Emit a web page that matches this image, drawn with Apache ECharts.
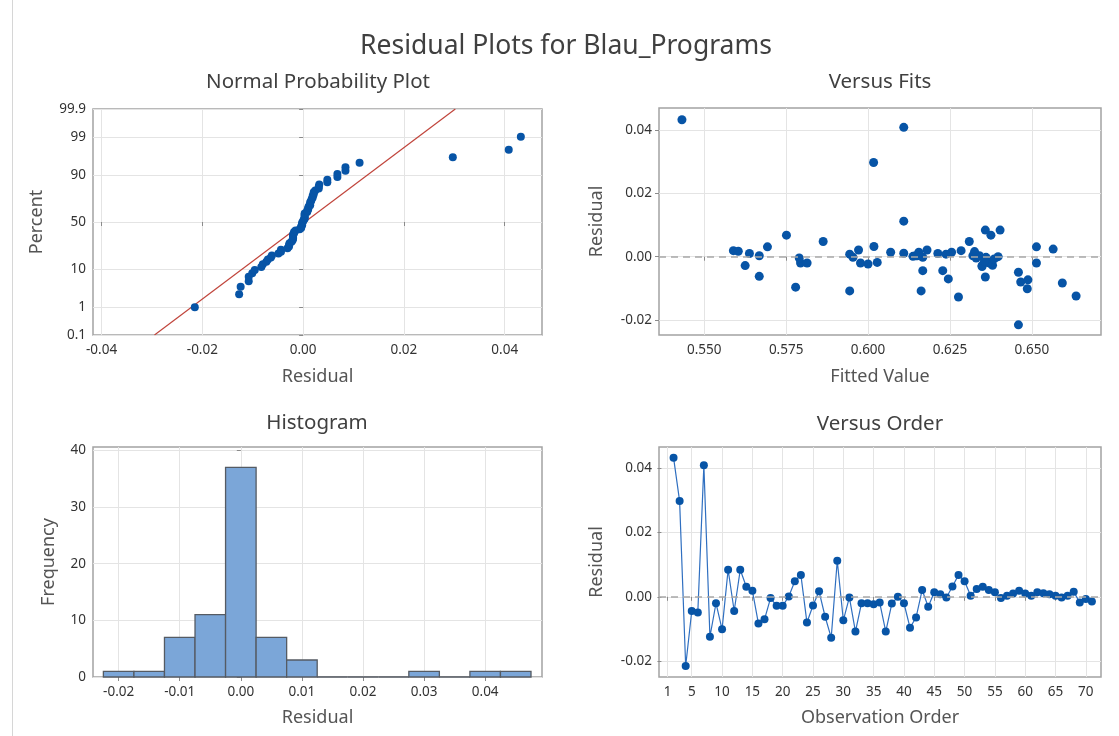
<!DOCTYPE html>
<html><head><meta charset="utf-8">
<script src="https://cdn.jsdelivr.net/npm/echarts@6/dist/echarts.min.js"></script>
<style>html,body{margin:0;padding:0;background:#fff}#c{width:1119px;height:736px}</style>
</head><body><div id="c"></div><script>
// ---------- data ----------
const obsOrder = [2,3,4,5,6,7,8,9,10,11,12,13,14,15,16,17,18,19,20,21,22,23,24,25,26,27,28,29,30,31,32,33,34,35,36,37,38,39,40,41,42,43,44,45,46,47,48,49,50,51,52,53,54,55,56,57,58,59,60,61,62,63,64,65,66,67,68,69,70,71];
const residuals = [0.0432,0.0297,-0.0215,-0.0044,-0.0049,0.0408,-0.0124,-0.0020,-0.0101,0.0084,-0.0044,0.0084,0.0031,0.0019,-0.0083,-0.0070,-0.0004,-0.0028,-0.0028,0.0001,0.0048,0.0068,-0.0080,-0.0027,0.0017,-0.0062,-0.0127,0.0112,-0.0073,-0.0002,-0.0108,-0.0020,-0.0020,-0.0023,-0.0018,-0.0108,-0.0021,0.0000,-0.0020,-0.0096,-0.0064,0.0021,-0.0031,0.0014,0.0008,-0.0002,0.0032,0.0068,0.0048,0.0003,0.0024,0.0031,0.0021,0.0014,-0.0004,0.0003,0.0010,0.0019,0.0010,0.0003,0.0014,0.0011,0.0008,0.0003,-0.0002,0.0003,0.0016,-0.0018,-0.0007,-0.0015];
const fittedValues = [0.5432,0.6017,0.6459,0.6167,0.6459,0.6109,0.6635,0.5794,0.6486,0.6358,0.6228,0.6403,0.5693,0.5589,0.6593,0.6245,0.5790,0.5625,0.6348,0.6137,0.5863,0.5751,0.6466,0.6380,0.5604,0.5668,0.6276,0.6109,0.6488,0.6167,0.5944,0.5814,0.5977,0.6000,0.6028,0.6162,0.6372,0.6397,0.6514,0.5779,0.6358,0.5971,0.6348,0.6069,0.5944,0.5954,0.6018,0.6375,0.6309,0.5668,0.6565,0.6514,0.6180,0.6255,0.6330,0.6145,0.5638,0.6284,0.6213,0.6320,0.6155,0.6109,0.6238,0.6340,0.6360,0.6150,0.6325,0.6365,0.6385,0.6355];
const histBinCenters = [-0.020,-0.015,-0.010,-0.005,0.000,0.005,0.010,0.015,0.020,0.025,0.030,0.035,0.040,0.045];
const histCounts = [1,1,7,11,37,7,3,0,0,0,1,0,1,1];
const histBinWidth = 0.005;
const probTickPercents = [0.1,1,10,50,90,99,99.9];
const fitLineResidual = [-0.0295, 0.0302];   // red reference line at 0.1% and 99.9%
const fitLinePercent = [0.1, 99.9];
const residTicks = [-0.02,0,0.02,0.04];
const probXTicks = [-0.04,-0.02,0,0.02,0.04];
const fitsXTicks = [0.550,0.575,0.600,0.625,0.650];
const histXTicks = [-0.02,-0.01,0,0.01,0.02,0.03,0.04];
const histYTicks = [0,10,20,30,40];
const orderXTicks = [1,5,10,15,20,25,30,35,40,45,50,55,60,65,70];

// ---------- helpers ----------
function probit(p){
  const a=[-3.969683028665376e+01,2.209460984245205e+02,-2.759285104469687e+02,1.383577518672690e+02,-3.066479806614716e+01,2.506628277459239e+00];
  const b=[-5.447609879822406e+01,1.615858368580409e+02,-1.556989798598866e+02,6.680131188771972e+01,-1.328068155288572e+01];
  const c=[-7.784894002430293e-03,-3.223964580411365e-01,-2.400758277161838e+00,-2.549732539343734e+00,4.374664141464968e+00,2.938163982698783e+00];
  const d=[7.784695709041462e-03,3.224671290700398e-01,2.445134137142996e+00,3.754408661907416e+00];
  const pl=0.02425, ph=1-pl; let q,r;
  if(p<pl){q=Math.sqrt(-2*Math.log(p));return (((((c[0]*q+c[1])*q+c[2])*q+c[3])*q+c[4])*q+c[5])/((((d[0]*q+d[1])*q+d[2])*q+d[3])*q+1);}
  if(p>ph){q=Math.sqrt(-2*Math.log(1-p));return -(((((c[0]*q+c[1])*q+c[2])*q+c[3])*q+c[4])*q+c[5])/((((d[0]*q+d[1])*q+d[2])*q+d[3])*q+1);}
  q=p-0.5;r=q*q;return (((((a[0]*r+a[1])*r+a[2])*r+a[3])*r+a[4])*r+a[5])*q/(((((b[0]*r+b[1])*r+b[2])*r+b[3])*r+b[4])*r+1);
}
const n = residuals.length;
const sorted = residuals.slice().sort((x,y)=>x-y);
const probData = sorted.map((v,i)=>[v, probit((i+1-0.3)/(n+0.4))]);
const probZTicks = probTickPercents.map(p=>probit(p/100));
const fitLineData = fitLineResidual.map((v,i)=>[v, probit(fitLinePercent[i]/100)]);
const fitsData = fittedValues.map((f,i)=>[f, residuals[i]]);
const orderData = obsOrder.map((o,i)=>[o, residuals[i]]);
const histData = histBinCenters.map((c,i)=>[c-histBinWidth/2, c+histBinWidth/2, histCounts[i]]);

const FONT = 'Noto Sans';
const BLUE = '#0754a6';
const labelColor = '#333333';
const nameColor = '#555555';

function axis(opt){
  return {
    type:'value', gridIndex:opt.g, min:opt.min, max:opt.max,
    name:opt.name, nameLocation:'middle', nameGap:opt.gap,
    nameTextStyle:{fontFamily:FONT, fontSize:18, color:nameColor},
    axisLine:{show:false},
    axisTick:{show:true, length:4, lineStyle:{color:'#8a8a8a'}, customValues:opt.ticks},
    axisLabel:{fontFamily:FONT, fontSize:13.5, color:labelColor, margin:opt.margin||7,
      customValues:opt.ticks, formatter:opt.fmt, showMinLabel:true, showMaxLabel:true},
    splitLine:{show:true, lineStyle:{color:'#e4e4e4', width:1}}
  };
}
const f2 = v => (Math.abs(v)<1e-12?0:v).toFixed(2);
const f3 = v => v.toFixed(3);

const grids = [
  {left:93, top:109, width:449, height:226},
  {left:659, top:108, width:442, height:227},
  {left:93, top:447, width:449, height:230},
  {left:659, top:447, width:442, height:230}
].map(g=>Object.assign({show:true, borderColor:'#a3a3a3', borderWidth:1.5, backgroundColor:'#fff'}, g));

const zeroLine = {silent:true, symbol:'none', label:{show:false},
  lineStyle:{type:[7,5], color:'#a8a8a8', width:1.5}, data:[{yAxis:0}]};

const option = {
  animation:false,
  backgroundColor:'#fff',
  grid:grids,
  xAxis:[
    axis({g:0, min:-0.0417, max:0.0474, ticks:probXTicks, fmt:f2, name:'Residual', gap:33, margin:8}),
    axis({g:1, min:0.5362, max:0.6711, ticks:fitsXTicks, fmt:f3, name:'Fitted Value', gap:33, margin:8}),
    axis({g:2, min:-0.0242, max:0.0493, ticks:histXTicks, fmt:f2, name:'Residual', gap:32, margin:8}),
    axis({g:3, min:-0.4, max:72.5, ticks:orderXTicks, fmt:v=>String(v), name:'Observation Order', gap:32, margin:8})
  ],
  yAxis:[
    axis({g:0, min:probit(0.001)-1e-6, max:probit(0.999)+1e-6, ticks:probZTicks, name:'Percent', gap:47,
      fmt:v=>{const i=probZTicks.findIndex(z=>Math.abs(z-v)<1e-4);return i>=0?String(probTickPercents[i]):'';}}),
    axis({g:1, min:-0.0247, max:0.0469, ticks:residTicks, fmt:f2, name:'Residual', gap:53}),
    axis({g:2, min:0, max:40.6, ticks:histYTicks, fmt:v=>String(v), name:'Frequency', gap:35}),
    axis({g:3, min:-0.0249, max:0.0465, ticks:residTicks, fmt:f2, name:'Residual', gap:53})
  ],
  series:[
    {type:'line', xAxisIndex:0, yAxisIndex:0, data:fitLineData, symbol:'none', silent:true,
      lineStyle:{color:'#c0443b', width:1.2}, z:2},
    {type:'scatter', xAxisIndex:0, yAxisIndex:0, data:probData, symbol:'circle', symbolSize:8,
      itemStyle:{color:BLUE, opacity:1}, z:3},
    {type:'scatter', xAxisIndex:1, yAxisIndex:1, data:fitsData, symbol:'circle', symbolSize:9,
      itemStyle:{color:BLUE, opacity:1}, markLine:zeroLine, z:3},
    {type:'custom', xAxisIndex:2, yAxisIndex:2, data:histData,
      renderItem:(params, api)=>{
        const p0 = api.coord([api.value(0), 0]);
        const p1 = api.coord([api.value(1), api.value(2)]);
        return {type:'rect', shape:{x:p0[0], y:p1[1], width:p1[0]-p0[0], height:p0[1]-p1[1]},
          style:{fill:'#7ba6d8', stroke:'#555b63', lineWidth:1.3}};
      }, z:3},
    {type:'line', xAxisIndex:3, yAxisIndex:3, data:orderData, symbol:'circle', symbolSize:8, showSymbol:true,
      lineStyle:{color:'#2f6fc0', width:1.2}, itemStyle:{color:BLUE}, markLine:zeroLine, z:3}
  ],
  graphic:[
    {type:'line', shape:{x1:12.5,y1:0,x2:12.5,y2:736}, style:{stroke:'#d6d6d6', lineWidth:1}, silent:true},
    {type:'text', x:566, y:46, style:{text:'Residual Plots for Blau_Programs', font:'26.5px "Noto Sans"', fill:'#404040', textAlign:'center', textVerticalAlign:'middle'}},
    {type:'text', x:318, y:82, style:{text:'Normal Probability Plot', font:'20.5px "Noto Sans"', fill:'#404040', textAlign:'center', textVerticalAlign:'middle'}},
    {type:'text', x:880, y:82, style:{text:'Versus Fits', font:'20.5px "Noto Sans"', fill:'#404040', textAlign:'center', textVerticalAlign:'middle'}},
    {type:'text', x:317, y:423, style:{text:'Histogram', font:'20.5px "Noto Sans"', fill:'#404040', textAlign:'center', textVerticalAlign:'middle'}},
    {type:'text', x:880, y:424, style:{text:'Versus Order', font:'20.5px "Noto Sans"', fill:'#404040', textAlign:'center', textVerticalAlign:'middle'}}
  ]
};
const chart = echarts.init(document.getElementById('c'), null, {renderer:'canvas'});
chart.setOption(option);
</script></body></html>
